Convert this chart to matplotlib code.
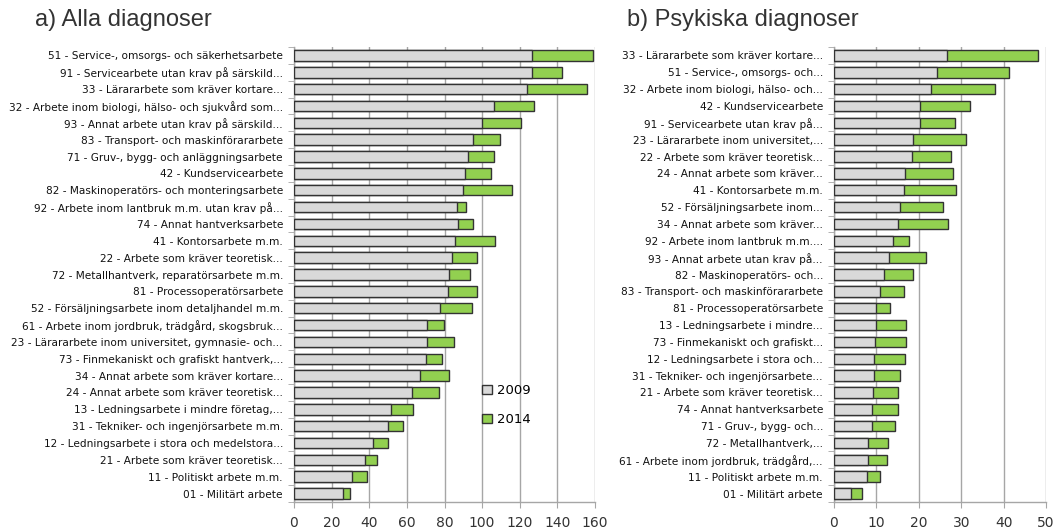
import matplotlib
matplotlib.use("Agg")
import matplotlib.pyplot as plt
import numpy as np
from matplotlib.patches import Patch

labels_a = [
    "51 - Service-, omsorgs- och säkerhetsarbete",
    "91 - Servicearbete utan krav på särskild...",
    "33 - Lärararbete som kräver kortare...",
    "32 - Arbete inom biologi, hälso- och sjukvård som...",
    "93 - Annat arbete utan krav på särskild...",
    "83 - Transport- och maskinförararbete",
    "71 - Gruv-, bygg- och anläggningsarbete",
    "42 - Kundservicearbete",
    "82 - Maskinoperatörs- och monteringsarbete",
    "92 - Arbete inom lantbruk m.m. utan krav på...",
    "74 - Annat hantverksarbete",
    "41 - Kontorsarbete m.m.",
    "22 - Arbete som kräver teoretisk...",
    "72 - Metallhantverk, reparatörsarbete m.m.",
    "81 - Processoperatörsarbete",
    "52 - Försäljningsarbete inom detaljhandel m.m.",
    "61 - Arbete inom jordbruk, trädgård, skogsbruk...",
    "23 - Lärararbete inom universitet, gymnasie- och...",
    "73 - Finmekaniskt och grafiskt hantverk,...",
    "34 - Annat arbete som kräver kortare...",
    "24 - Annat arbete som kräver teoretisk...",
    "13 - Ledningsarbete i mindre företag,...",
    "31 - Tekniker- och ingenjörsarbete m.m.",
    "12 - Ledningsarbete i stora och medelstora...",
    "21 - Arbete som kräver teoretisk...",
    "11 - Politiskt arbete m.m.",
    "01 - Militärt arbete",
]
a_2009 = [126.7, 126.3, 124.0, 106.3, 99.8, 95.0, 92.7, 90.7, 90.0, 86.8, 87.0, 85.8, 84.0, 82.2,
          81.7, 77.6, 70.7, 70.7, 70.2, 67.2, 62.9, 51.4, 50.1, 41.8, 37.6, 30.8, 25.9]
a_2014 = [159.1, 142.3, 155.9, 127.6, 120.8, 109.3, 106.5, 104.5, 116.1, 91.2, 95.0, 107.0, 97.4, 93.7,
          97.4, 94.8, 79.9, 85.2, 78.5, 82.2, 76.9, 63.4, 58.1, 50.1, 44.3, 38.6, 29.6]

labels_b = [
    "33 - Lärararbete som kräver kortare...",
    "51 - Service-, omsorgs- och...",
    "32 - Arbete inom biologi, hälso- och...",
    "42 - Kundservicearbete",
    "91 - Servicearbete utan krav på...",
    "23 - Lärararbete inom universitet,...",
    "22 - Arbete som kräver teoretisk...",
    "24 - Annat arbete som kräver...",
    "41 - Kontorsarbete m.m.",
    "52 - Försäljningsarbete inom...",
    "34 - Annat arbete som kräver...",
    "92 - Arbete inom lantbruk m.m....",
    "93 - Annat arbete utan krav på...",
    "82 - Maskinoperatörs- och...",
    "83 - Transport- och maskinförararbete",
    "81 - Processoperatörsarbete",
    "13 - Ledningsarbete i mindre...",
    "73 - Finmekaniskt och grafiskt...",
    "12 - Ledningsarbete i stora och...",
    "31 - Tekniker- och ingenjörsarbete...",
    "21 - Arbete som kräver teoretisk...",
    "74 - Annat hantverksarbete",
    "71 - Gruv-, bygg- och...",
    "72 - Metallhantverk,...",
    "61 - Arbete inom jordbruk, trädgård,...",
    "11 - Politiskt arbete m.m.",
    "01 - Militärt arbete",
]
b_2009 = [26.6, 24.4, 22.8, 20.4, 20.2, 18.6, 18.3, 16.7, 16.4, 15.6, 15.1, 13.8, 12.9, 11.9,
          10.9, 10.0, 10.0, 9.7, 9.4, 9.4, 9.1, 8.9, 8.9, 8.1, 8.1, 7.9, 4.0]
b_2014 = [48.1, 41.2, 38.0, 32.0, 28.5, 31.2, 27.7, 28.0, 28.7, 25.6, 26.9, 17.8, 21.6, 18.6,
          16.5, 13.1, 16.9, 16.9, 16.7, 15.6, 15.0, 15.0, 14.3, 12.7, 12.4, 10.8, 6.5]

ticks_a = [0, 20, 40, 60, 80, 100, 120, 140, 160]
ticks_b = [0, 10, 20, 30, 40, 50]

GRAY = "#d9d9d9"
GREEN = "#92d050"
EDGE = "#333333"
GRID = "#a6a6a6"

W, H = 1056, 528
fig = plt.figure(figsize=(W / 100, H / 100), dpi=100)

def make_ax(left, right, top, bottom):
    return fig.add_axes([left / W, 1 - bottom / H, (right - left) / W, (bottom - top) / H])

ax1 = make_ax(294, 595, 47, 502)
ax2 = make_ax(834, 1046, 47, 502)

def draw(ax, labels, v09, v14, ticks):
    n = len(labels)
    y = np.arange(n)
    ax.barh(y, v14, height=0.62, color=GREEN, edgecolor=EDGE, linewidth=1.0, zorder=3)
    ax.barh(y, v09, height=0.62, color=GRAY, edgecolor=EDGE, linewidth=1.0, zorder=4)
    ax.set_ylim(n - 0.5, -0.5)
    ax.set_xlim(ticks[0], ticks[-1])
    ax.set_xticks(ticks)
    ax.set_yticks(y)
    ax.set_yticklabels(labels, fontsize=7.6, color="#111111")
    ax.set_yticks(np.arange(-0.5, n, 1), minor=True)
    ax.tick_params(axis="y", which="major", length=0, pad=8)
    ax.tick_params(axis="y", which="minor", length=4, color=GRID, direction="out")
    ax.tick_params(axis="x", length=4, color=GRID, labelsize=10, labelcolor="#333333", pad=6)
    ax.grid(axis="x", color=GRID, linewidth=1.0, zorder=0)
    for s in ["top", "right"]:
        ax.spines[s].set_visible(False)
    for s in ["left", "bottom"]:
        ax.spines[s].set_color(GRID)
        ax.spines[s].set_linewidth(1.0)
    ax.set_axisbelow(True)

draw(ax1, labels_a, a_2009, a_2014, ticks_a)
draw(ax2, labels_b, b_2009, b_2014, ticks_b)

handles = [Patch(facecolor=GRAY, edgecolor=EDGE, linewidth=1.0, label="2009"),
           Patch(facecolor=GREEN, edgecolor=EDGE, linewidth=1.0, label="2014")]
leg = ax1.legend(handles=handles, loc="upper left", bbox_to_anchor=(0.585, 0.285),
                 frameon=False, fontsize=9.5, labelspacing=1.2, handlelength=0.75,
                 handleheight=0.75, handletextpad=0.4)

fig.text(35 / W, 1 - 20 / H, "a) Alla diagnoser", fontsize=17, family="Liberation Sans",
         color="#333333", va="center", ha="left")
fig.text(627 / W, 1 - 20 / H, "b) Psykiska diagnoser", fontsize=17, family="Liberation Sans",
         color="#333333", va="center", ha="left")

fig.savefig("out.png", dpi=100)
